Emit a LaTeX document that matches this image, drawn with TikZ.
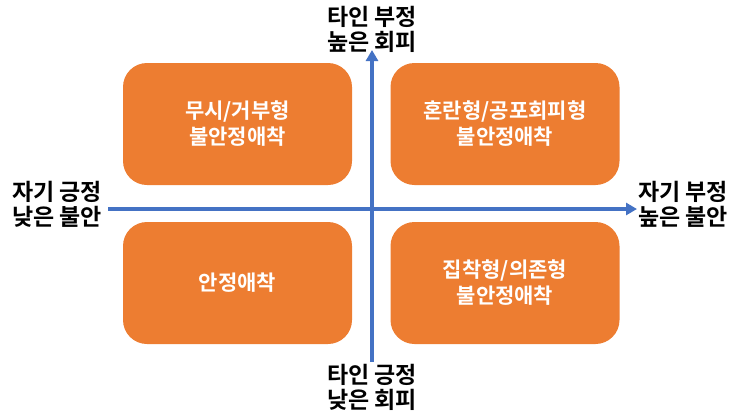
\documentclass[tikz,border=0pt]{standalone}
\usepackage{fontspec}
\setmainfont{Noto Sans CJK KR}[BoldFont={Noto Sans CJK KR Bold}]
\usetikzlibrary{arrows.meta, positioning}
\definecolor{attorange}{RGB}{237, 125,  49}
\definecolor{axisblue} {RGB}{ 68, 114, 196}

\begin{document}
\begin{tikzpicture}[x=1pt,y=-1pt,
	quad/.style={fill=attorange, rounded corners=24pt, minimum width=229pt,
		minimum height=122pt, text=white, align=center,
		font=\bfseries\fontsize{21}{26}\selectfont},
	axislabel/.style={align=center, font=\bfseries\fontsize{23}{25}\selectfont},
	axis/.style={axisblue, line width=3.5pt, -{Triangle[length=11pt,width=12pt]}}]
	\useasboundingbox (0,0) rectangle (743,418);
	% quadrants
	\node[quad] (avoidant)   at (237.5,124) {무시/거부형\\불안정애착};
	\node[quad] (fearful)    at (505,124)   {혼란형/공포회피형\\불안정애착};
	\node[quad] (secure)     at (237.5,283) {안정애착};
	\node[quad] (preoccupied) at (505,283)  {집착형/의존형\\불안정애착};
	% axes
	\coordinate (xl) at (108,209);
	\coordinate (xr) at (637,209);
	\coordinate (yb) at (372,362);
	\coordinate (yt) at (372,50);
	\draw[axis] (xl) -- (xr);
	\draw[axis] (yb) -- (yt);
	% axis labels
	\node[axislabel] (selfpos)  at (57,204)  {자기 긍정\\낮은 불안};
	\node[axislabel] (selfneg)  at (683,204) {자기 부정\\높은 불안};
	\node[axislabel] (otherneg) at (372,29)  {타인 부정\\높은 회피};
	\node[axislabel] (otherpos) at (372,387) {타인 긍정\\낮은 회피};
\end{tikzpicture}
\end{document}
